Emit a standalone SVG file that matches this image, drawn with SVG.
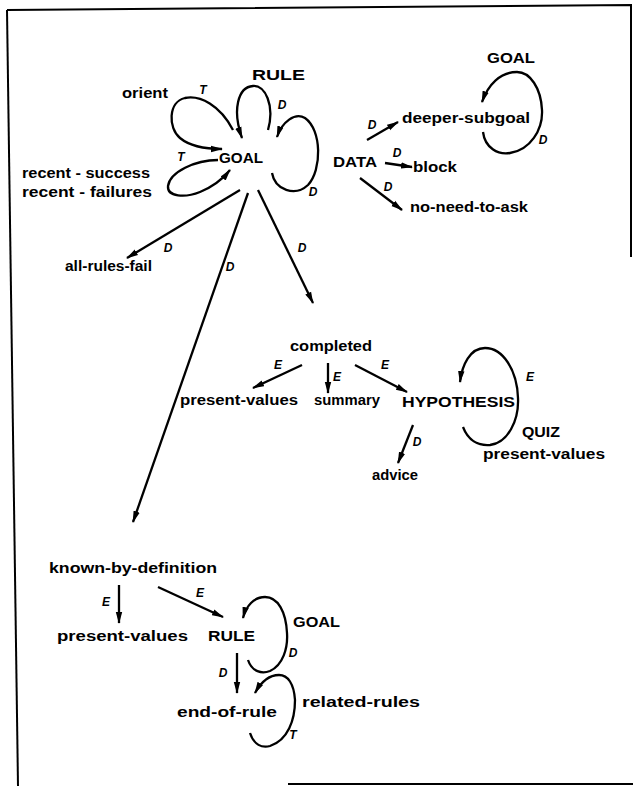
<svg xmlns="http://www.w3.org/2000/svg" width="633" height="786" viewBox="0 0 633 786">
<defs>
<marker id="ah" markerUnits="userSpaceOnUse" markerWidth="12" markerHeight="8" refX="11" refY="4" orient="auto">
<path d="M0,0.8 L12,4 L0,7.2 z" fill="#000"/>
</marker>
<style>
.e{fill:none;stroke:#000;stroke-width:2.3;marker-end:url(#ah)}
.f{fill:none;stroke:#000;stroke-width:2}
.n{font-family:"Liberation Sans",Arial,sans-serif;font-weight:bold;font-size:14px;fill:#000}
.c{font-family:"Liberation Sans",Arial,sans-serif;font-weight:bold;font-size:15px;fill:#000}
.l{font-family:"Liberation Sans",Arial,sans-serif;font-weight:bold;font-style:italic;font-size:12px;fill:#000;text-anchor:middle}
</style>
</defs>
<rect width="633" height="786" fill="#fff"/>
<g id="frame">
<path class="f" d="M7,10 L631,5 L631,257"/>
<path class="f" d="M7,10 L18,786"/>
<path class="f" d="M288,784 L633,784"/>
</g>
<g id="connectors">
<path class="e" d="M233,130 C220,105 200,95 185,98 C168,102 168,128 180,138 C192,148 210,149 222,149"/>
<path class="e" d="M268,130 C275,105 265,85 253,86 C238,87 232,110 242,138"/>
<path class="e" d="M272,173 C275,190 295,197 308,185 C322,170 322,130 305,118 C295,112 282,122 277,137"/>
<path class="e" d="M218,160 C195,160 170,172 168,186 C167,197 185,198 200,192 C212,187 222,180 230,170"/>
<path class="e" d="M240,190 L127,258"/>
<path class="e" d="M248,193 L133,522"/>
<path class="e" d="M258,190 L313,303"/>
<path class="e" d="M367,140 L398,122"/>
<path class="e" d="M385,163 L412,167"/>
<path class="e" d="M360,178 L402,210"/>
<path class="e" d="M483,132 C485,148 498,155 510,153 C530,150 543,130 542,110 C541,88 530,72 517,72 C500,72 488,85 482,102"/>
<path class="e" d="M302,365 L253,388"/>
<path class="e" d="M328,363 L328,393"/>
<path class="e" d="M355,365 L407,392"/>
<path class="e" d="M413,425 L398,463"/>
<path class="e" d="M463,427 C468,440 478,446 490,445 C508,443 519,420 518,398 C517,370 503,348 485,348 C470,348 462,365 460,382"/>
<path class="e" d="M119,585 L119,623"/>
<path class="e" d="M158,587 L223,617"/>
<path class="e" d="M237,653 L237,693"/>
<path class="e" d="M248,660 C252,672 262,674 270,671 C283,665 288,648 287,633 C286,612 278,597 265,597 C254,597 246,606 243,618"/>
<path class="e" d="M250,733 C254,745 262,748 270,746 C288,740 295,720 295,700 C294,684 288,675 279,675 C268,675 260,684 255,693"/>
</g>
<g id="edge-labels">
<text class="l" x="203" y="94">T</text>
<text class="l" x="282" y="109">D</text>
<text class="l" x="181" y="161">T</text>
<text class="l" x="313" y="196">D</text>
<text class="l" x="168" y="252">D</text>
<text class="l" x="230" y="271">D</text>
<text class="l" x="302" y="252">D</text>
<text class="l" x="372" y="129">D</text>
<text class="l" x="397" y="157">D</text>
<text class="l" x="388" y="191">D</text>
<text class="l" x="543" y="144">D</text>
<text class="l" x="278" y="369">E</text>
<text class="l" x="337" y="381">E</text>
<text class="l" x="385" y="369">E</text>
<text class="l" x="530" y="381">E</text>
<text class="l" x="417" y="446">D</text>
<text class="l" x="106" y="606">E</text>
<text class="l" x="200" y="597">E</text>
<text class="l" x="293" y="657">D</text>
<text class="l" x="223" y="677">D</text>
<text class="l" x="293" y="739">T</text>
</g>
<g id="node-rule-top"><text class="c" x="252" y="80" textLength="53" lengthAdjust="spacingAndGlyphs">RULE</text></g>
<g id="node-orient"><text class="n" x="122" y="98" textLength="46" lengthAdjust="spacingAndGlyphs">orient</text></g>
<g id="node-goal"><text class="c" x="219" y="163" textLength="44" lengthAdjust="spacingAndGlyphs">GOAL</text></g>
<g id="node-recent"><text class="n" x="22" y="178" textLength="128" lengthAdjust="spacingAndGlyphs">recent - success</text><text class="n" x="22" y="197" textLength="130" lengthAdjust="spacingAndGlyphs">recent - failures</text></g>
<g id="node-all-rules-fail"><text class="n" x="65" y="271" textLength="87" lengthAdjust="spacingAndGlyphs">all-rules-fail</text></g>
<g id="node-data"><text class="c" x="333" y="167" textLength="44" lengthAdjust="spacingAndGlyphs">DATA</text></g>
<g id="node-deeper-subgoal"><text class="n" x="402" y="123" textLength="128" lengthAdjust="spacingAndGlyphs">deeper-subgoal</text></g>
<g id="node-block"><text class="n" x="413" y="172" textLength="44" lengthAdjust="spacingAndGlyphs">block</text></g>
<g id="node-no-need-to-ask"><text class="n" x="410" y="212" textLength="118" lengthAdjust="spacingAndGlyphs">no-need-to-ask</text></g>
<g id="node-goal-tr"><text class="c" x="487" y="63" textLength="48" lengthAdjust="spacingAndGlyphs">GOAL</text></g>
<g id="node-completed"><text class="n" x="290" y="351" textLength="82" lengthAdjust="spacingAndGlyphs">completed</text></g>
<g id="node-present-values-1"><text class="n" x="180" y="405" textLength="118" lengthAdjust="spacingAndGlyphs">present-values</text></g>
<g id="node-summary"><text class="n" x="314" y="405" textLength="66" lengthAdjust="spacingAndGlyphs">summary</text></g>
<g id="node-hypothesis"><text class="c" x="402" y="407" textLength="113" lengthAdjust="spacingAndGlyphs">HYPOTHESIS</text></g>
<g id="node-quiz"><text class="c" x="522" y="437" textLength="38" lengthAdjust="spacingAndGlyphs">QUIZ</text></g>
<g id="node-present-values-2"><text class="n" x="483" y="459" textLength="122" lengthAdjust="spacingAndGlyphs">present-values</text></g>
<g id="node-advice"><text class="n" x="372" y="480" textLength="46" lengthAdjust="spacingAndGlyphs">advice</text></g>
<g id="node-known-by-definition"><text class="n" x="49" y="573" textLength="168" lengthAdjust="spacingAndGlyphs">known-by-definition</text></g>
<g id="node-present-values-3"><text class="n" x="57" y="641" textLength="131" lengthAdjust="spacingAndGlyphs">present-values</text></g>
<g id="node-rule-bottom"><text class="c" x="208" y="641" textLength="47" lengthAdjust="spacingAndGlyphs">RULE</text></g>
<g id="node-goal-bottom"><text class="c" x="293" y="627" textLength="47" lengthAdjust="spacingAndGlyphs">GOAL</text></g>
<g id="node-end-of-rule"><text class="n" x="177" y="717" textLength="100" lengthAdjust="spacingAndGlyphs">end-of-rule</text></g>
<g id="node-related-rules"><text class="n" x="302" y="707" textLength="118" lengthAdjust="spacingAndGlyphs">related-rules</text></g>
</svg>
